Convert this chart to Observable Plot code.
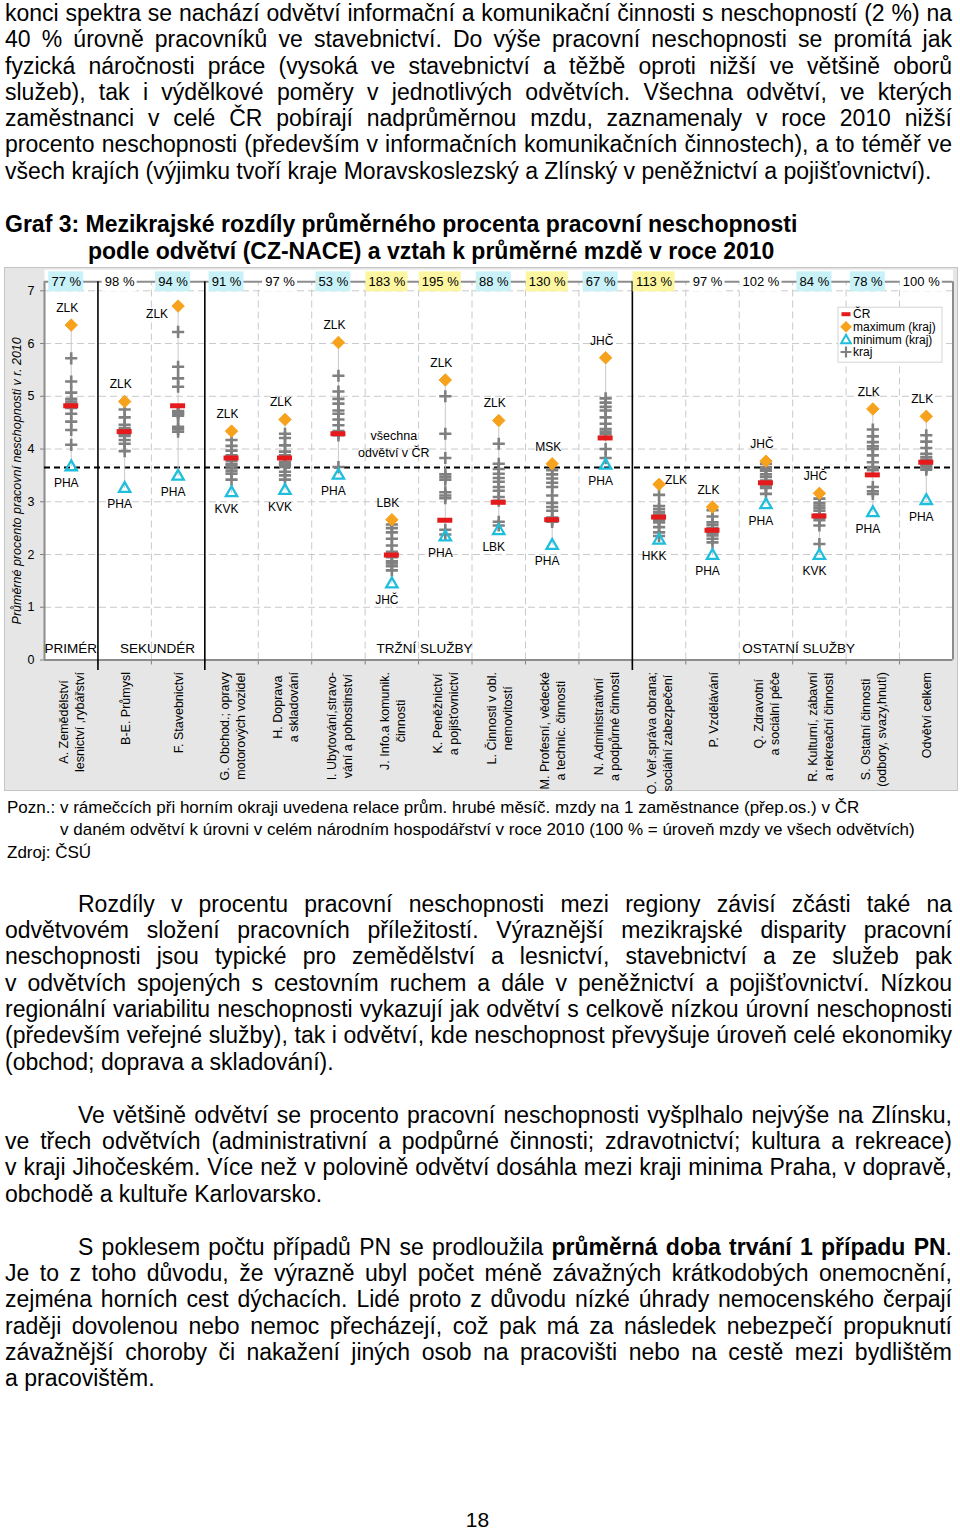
<!DOCTYPE html>
<html lang="cs">
<head>
<meta charset="utf-8">
<script src="https://cdn.jsdelivr.net/npm/d3@7"></script>
<script src="https://cdn.jsdelivr.net/npm/@observablehq/plot@0.6"></script>
<style>
html,body{margin:0;padding:0;background:#fff;}
#page{position:relative;width:960px;height:1530px;overflow:hidden;font-family:"Liberation Sans",Arial,Helvetica,sans-serif;color:#000;}
.blk{position:absolute;left:5px;width:947px;}
.txt{font-size:23px;line-height:26.3px;}
.ln{text-align:justify;text-align-last:justify;}
.ln.end{text-align-last:left;}
.ind{padding-left:73px;}
.title{font-size:23px;font-weight:bold;line-height:27px;}
.note{font-size:17px;line-height:22.5px;left:7px;width:945px;}
#chart{position:absolute;left:4px;top:267px;width:952px;height:522px;border:1px solid #c4c4c4;background:#e6e6e6;}
#chart svg{display:block;}
.pgnum{position:absolute;left:0;width:955px;text-align:center;top:1507px;font-size:21px;line-height:26px;}
</style>
</head>
<body>
<div id="page">
  <div class="blk txt" style="top:0px">
    <div class="ln">konci spektra se nachází odvětví informační a komunikační činnosti s neschopností (2 %) na</div>
    <div class="ln">40 % úrovně pracovníků ve stavebnictví. Do výše pracovní neschopnosti se promítá jak</div>
    <div class="ln">fyzická náročnosti práce (vysoká ve stavebnictví a těžbě oproti nižší ve většině oborů</div>
    <div class="ln">služeb), tak i výdělkové poměry v&nbsp;jednotlivých odvětvích. Všechna odvětví, ve kterých</div>
    <div class="ln">zaměstnanci v&nbsp;celé ČR pobírají nadprůměrnou mzdu, zaznamenaly v&nbsp;roce 2010 nižší</div>
    <div class="ln">procento neschopnosti (především v informačních komunikačních činnostech), a to téměř ve</div>
    <div class="ln end">všech krajích (výjimku tvoří kraje Moravskoslezský a Zlínský v peněžnictví a pojišťovnictví).</div>
  </div>

  <div class="blk title" style="top:210.5px">
    <div>Graf 3: Mezikrajské rozdíly průměrného procenta pracovní neschopnosti</div>
    <div style="padding-left:83px">podle odvětví (CZ-NACE) a vztah k průměrné mzdě v roce 2010</div>
  </div>

  <div id="chart"></div>

  <div class="blk note" style="top:796.75px">
    <div>Pozn.: v rámečcích při horním okraji uvedena relace prům. hrubé měsíč. mzdy na 1 zaměstnance (přep.os.) v ČR</div>
    <div style="padding-left:53px">v daném odvětví k úrovni v celém národním hospodářství v roce 2010 (100 % = úroveň mzdy ve všech odvětvích)</div>
    <div>Zdroj: ČSÚ</div>
  </div>

  <div class="blk txt" style="top:890.85px">
    <div class="ln ind">Rozdíly v procentu pracovní neschopnosti mezi regiony závisí zčásti také na</div>
    <div class="ln">odvětvovém složení pracovních příležitostí. Výraznější mezikrajské disparity pracovní</div>
    <div class="ln">neschopnosti jsou typické pro zemědělství a lesnictví, stavebnictví a ze služeb pak</div>
    <div class="ln">v&nbsp;odvětvích spojených s&nbsp;cestovním ruchem a dále v peněžnictví a pojišťovnictví. Nízkou</div>
    <div class="ln">regionální variabilitu neschopnosti vykazují jak odvětví s celkově nízkou úrovní neschopnosti</div>
    <div class="ln">(především veřejné služby), tak i odvětví, kde neschopnost převyšuje úroveň celé ekonomiky</div>
    <div class="ln end">(obchod; doprava a skladování).</div>
  </div>

  <div class="blk txt" style="top:1101.85px">
    <div class="ln ind">Ve většině odvětví se procento pracovní neschopnosti vyšplhalo nejvýše na Zlínsku,</div>
    <div class="ln">ve třech odvětvích (administrativní a podpůrné činnosti; zdravotnictví; kultura a rekreace)</div>
    <div class="ln">v&nbsp;kraji Jihočeském. Více než v polovině odvětví dosáhla mezi kraji minima Praha, v dopravě,</div>
    <div class="ln end">obchodě a kultuře Karlovarsko.</div>
  </div>

  <div class="blk txt" style="top:1233.85px">
    <div class="ln ind">S poklesem počtu případů PN se prodloužila <b>průměrná doba trvání 1 případu PN</b>.</div>
    <div class="ln">Je to z&nbsp;toho důvodu, že výrazně ubyl počet méně závažných krátkodobých onemocnění,</div>
    <div class="ln">zejména horních cest dýchacích. Lidé proto z&nbsp;důvodu nízké úhrady nemocenského čerpají</div>
    <div class="ln">raději dovolenou nebo nemoc přecházejí, což pak má za následek nebezpečí propuknutí</div>
    <div class="ln">závažnější choroby či nakažení jiných osob na pracovišti nebo na cestě mezi bydlištěm</div>
    <div class="ln end">a pracovištěm.</div>
  </div>

  <div class="pgnum">18</div>
</div>

<script>
// ---------------- DATA ----------------
const categories = ["A","B-E","F","G","H","I","J","K","L","M","N","O","P","Q","R","S","Celkem"];
const categoryLabels = [
  "A. Zemědělství\nlesnictví ,rybářství",
  "B-E. Průmysl",
  "F. Stavebnictví",
  "G. Obchod.; opravy\nmotorových vozidel",
  "H. Doprava\na skladování",
  "I. Ubytování,stravo-\nvání a pohostinství",
  "J. Info.a komunik.\nčinnosti",
  "K. Peněžnictví\na pojišťovnictví",
  "L. Činnosti v obl.\nnemovitostí",
  "M. Profesní, vědecké\na technic. činnosti",
  "N. Administrativní\na podpůrné činnosti",
  "O. Veř.správa obrana;\nsociální zabezpečení",
  "P. Vzdělávání",
  "Q. Zdravotní\na sociální péče",
  "R. Kulturní, zábavní\na rekreační činnosti",
  "S. Ostatní činnosti\n(odbory, svazy,hnutí)",
  "Odvětví celkem"
];
// relation of average gross monthly wage to the national level (%)
const wageIndex = [77, 98, 94, 91, 97, 53, 183, 195, 88, 130, 67, 113, 97, 102, 84, 78, 100];
// ČR value per sector
const crValue  = [4.82, 4.33, 4.82, 3.83, 3.83, 4.29, 1.99, 2.65, 2.99, 2.66, 4.21, 2.71, 2.46, 3.36, 2.73, 3.51, 3.75];
// maximum region
const maxValue  = [6.35, 4.90, 6.71, 4.34, 4.56, 6.02, 2.66, 5.31, 4.54, 3.72, 5.73, 3.33, 2.90, 3.77, 3.16, 4.76, 4.62];
const maxRegion = ["ZLK","ZLK","ZLK","ZLK","ZLK","ZLK","LBK","ZLK","ZLK","MSK","JHČ","ZLK","ZLK","JHČ","JHČ","ZLK","ZLK"];
// minimum region
const minValue  = [3.66, 3.25, 3.48, 3.17, 3.21, 3.50, 1.44, 2.33, 2.45, 2.17, 3.69, 2.27, 1.98, 2.94, 1.98, 2.79, 3.02];
const minRegion = ["PHA","PHA","PHA","KVK","KVK","PHA","JHČ","PHA","LBK","PHA","PHA","HKK","PHA","PHA","KVK","PHA","PHA"];
// remaining regions (kraj)
const regionValues = [
  [5.72,5.28,5.07,4.95,4.90,4.86,4.83,4.78,4.67,4.52,4.36,4.08],
  [4.75,4.60,4.46,4.40,4.36,4.31,4.28,4.25,4.17,4.10,3.96],
  [6.22,5.56,5.34,5.18,4.72,4.70,4.68,4.66,4.63,4.42,4.38,4.33],
  [4.17,4.06,3.97,3.88,3.84,3.78,3.72,3.68,3.63,3.58,3.53,3.42],
  [4.29,4.21,4.07,3.95,3.88,3.76,3.72,3.70,3.66,3.57,3.50,3.42],
  [5.39,5.09,4.95,4.86,4.73,4.67,4.56,4.45,4.34,4.30,4.26,3.66],
  [2.57,2.50,2.42,2.30,2.17,2.05,1.95,1.87,1.83,1.78,1.70],
  [5.00,4.29,3.83,3.52,3.47,3.42,3.18,3.12,3.07,2.47,2.38],
  [4.10,3.72,3.62,3.53,3.45,3.38,3.28,3.21,3.09,3.02,2.62,2.55],
  [3.60,3.52,3.44,3.36,3.28,3.12,2.98,2.90,2.83,2.70,2.66,2.62],
  [4.96,4.88,4.80,4.73,4.60,4.48,4.38,4.33,4.28,4.00,3.83],
  [3.13,2.92,2.86,2.80,2.76,2.68,2.64,2.61,2.52,2.42,2.35],
  [2.84,2.72,2.61,2.56,2.50,2.44,2.40,2.36,2.30,2.23],
  [3.72,3.66,3.62,3.59,3.52,3.47,3.40,3.30,3.26,3.15],
  [3.06,2.98,2.93,2.88,2.83,2.76,2.70,2.65,2.55,2.20],
  [4.37,4.24,4.13,4.05,4.00,3.88,3.75,3.66,3.60,3.28,3.20,3.15],
  [4.26,4.14,4.02,3.91,3.85,3.80,3.72,3.68,3.65,3.61]
];
const allSectorsCR = 3.65;
const groups     = ["PRIMÉR","SEKUNDÉR","TRŽNÍ SLUŽBY","OSTATNÍ SLUŽBY"];
const groupStart = [0, 1, 3, 11];
const groupEnd   = [0, 2, 10, 16];
const yTicks = [0,1,2,3,4,5,6,7];
const yTitle = "Průměrné procento pracovní neschopnosti v r. 2010";
const avgLabel = "všechna\nodvětví v ČR";
const legendLabels = ["ČR","maximum (kraj)","minimum (kraj)","kraj"];

// ---------------- LAYOUT ----------------
const W = 952, H = 522;
const mL = 39, mR = 4.5, mT = 1.2, mB = 130.5;
const yMax = 7.4;
const topLineY = 7.17;
const n = categories.length;
const PX = (W - mL - mR) / n;
const PY = (H - mT - mB) / yMax;

const C_MAX = "#f7a21c", C_MIN = "#1ebedc", C_CR = "#e41a1c", C_KRAJ = "#808080";
const FONT = "Liberation Sans, Arial, Helvetica, sans-serif";
const LABEL_FS = 12.5;

// measure category label lines so that wrapped lines are centred on each other
const measureCtx = document.createElement("canvas").getContext("2d");
measureCtx.font = `${LABEL_FS}px "Liberation Sans", Arial, sans-serif`;
const labelBlockLen = categoryLabels.map(l => d3.max(l.split("\n"), s => measureCtx.measureText(s).width));

const cols = categories.map((c, i) => ({
  i, cat: c, wage: wageIndex[i], cr: crValue[i],
  max: maxValue[i], maxR: maxRegion[i], min: minValue[i], minR: minRegion[i],
  label: categoryLabels[i], labelLen: labelBlockLen[i]
}));
const regionPts = regionValues.flatMap((vals, i) => vals.map(v => ({i, v})));
const allBounds = d3.range(n - 1).map(i => i + 0.5);
const groupBounds = groupStart.slice(1).map(s => s - 0.5);
const innerBounds = allBounds.filter(b => !groupBounds.includes(b));
const groupData = groups.map((g, k) => ({g, k, start: groupStart[k], end: groupEnd[k]}));

const wageFill = w => w < 95 ? "#c9f2f8" : w > 105 ? "#fdf6a0" : "#ffffff";
const boxW = d => (String(d.wage).length > 2 ? 42 : 35);
const BOX_DX = -5;

function legendMark(index, scales, values, dims) {
  const right = dims.width - dims.marginRight, top = dims.marginTop;
  const g = d3.create("svg:g").attr("font-family", FONT).attr("font-size", 12).attr("text-anchor", "start");
  const bx = right - 114.5, by = top + 38;
  g.append("rect").attr("x", bx).attr("y", by).attr("width", 104).attr("height", 55)
    .attr("fill", "#fff").attr("stroke", "#d4d4d4");
  const sx = bx + 8, tx = bx + 15;
  legendLabels.forEach((lab, k) => {
    const yy = by + 7 + k * 12.6;
    if (k === 0) {
      g.append("line").attr("x1", sx - 4.5).attr("x2", sx + 4.5).attr("y1", yy).attr("y2", yy)
        .attr("stroke", C_CR).attr("stroke-width", 4);
    } else if (k === 1) {
      g.append("path").attr("transform", `translate(${sx},${yy})`)
        .attr("d", d3.symbol(d3.symbolDiamond2, Math.PI * 4.8 * 4.8)()).attr("fill", C_MAX).attr("stroke", C_MAX);
    } else if (k === 2) {
      g.append("path").attr("transform", `translate(${sx},${yy + 1})`)
        .attr("d", d3.symbol(d3.symbolTriangle2, Math.PI * 4.6 * 4.6)()).attr("fill", "none")
        .attr("stroke", C_MIN).attr("stroke-width", 2);
    } else {
      g.append("path").attr("transform", `translate(${sx},${yy})`)
        .attr("d", d3.symbol(d3.symbolPlus, Math.PI * 3.6 * 3.6)()).attr("fill", "none")
        .attr("stroke", C_KRAJ).attr("stroke-width", 2.2);
    }
    g.append("text").attr("x", tx).attr("y", yy).attr("dy", "0.35em").attr("text-anchor", "start").text(lab);
  });
  return g.node();
}

const chart = Plot.plot({
  width: W, height: H,
  marginLeft: mL, marginRight: mR, marginTop: mT, marginBottom: mB,
  style: {background: "transparent", fontFamily: FONT, fontSize: "12.5px", color: "#000", overflow: "visible"},
  x: {type: "linear", domain: [-0.5, n - 0.5], axis: null},
  y: {type: "linear", domain: [0, yMax]},
  marks: [
    Plot.frame({fill: "white", stroke: "none"}),
    // grid
    Plot.ruleY(yTicks.slice(1), {x1: -0.5, x2: n - 0.5, stroke: "#c9c9c9", strokeDasharray: "7,4"}),
    Plot.ruleX(innerBounds, {y1: 0, y2: topLineY, stroke: "#c9c9c9", strokeDasharray: "7,4"}),
    // axis ticks at category boundaries
    Plot.ruleX(allBounds, {y1: 0, y2: -5 / PY, stroke: "#808080"}),
    // plot border
    Plot.ruleY([0, topLineY], {x1: -0.5, x2: n - 0.5, stroke: "#8c8c8c", strokeWidth: 2}),
    Plot.ruleX([-0.5, n - 0.5], {y1: 0, y2: topLineY, stroke: "#8c8c8c", strokeWidth: 2}),
    // group separators
    Plot.ruleX(groupBounds, {y1: -10.5 / PY, y2: topLineY, stroke: "#000", strokeWidth: 1.6}),
    // all-sector average
    Plot.ruleY([allSectorsCR], {x1: -0.5, x2: n - 0.5, stroke: "#000", strokeWidth: 2, strokeDasharray: "6,4"}),
    Plot.text([allSectorsCR], {x: categories.indexOf("J"), y: d => d, text: () => avgLabel, dy: -24, dx: 2, lineHeight: 1.36, fontSize: 12.5}),
    // min-max range
    Plot.ruleX(cols, {x: "i", y1: "min", y2: "max", stroke: "#c8c8c8", strokeWidth: 1}),
    // regions
    Plot.dot(regionPts, {x: "i", y: "v", symbol: "plus", r: 4, stroke: C_KRAJ, strokeWidth: 2.6}),
    // ČR
    Plot.ruleY(cols, {y: "cr", x1: d => d.i - 7.5 / PX, x2: d => d.i + 7.5 / PX, stroke: C_CR, strokeWidth: 5}),
    // max & min
    Plot.dot(cols, {x: "i", y: "max", symbol: "diamond2", r: 5.6, fill: C_MAX, stroke: C_MAX, strokeWidth: 1}),
    Plot.dot(cols, {x: "i", y: "min", symbol: "triangle2", r: 5.4, fill: "none", stroke: C_MIN, strokeWidth: 2.3}),
    // region labels
    Plot.text(cols, {filter: d => d.cat !== "F" && d.cat !== "O", x: "i", y: "max", text: "maxR", dx: -4, dy: -17, fontSize: 12}),
    Plot.text(cols, {filter: d => d.cat === "F", x: "i", y: "max", text: "maxR", dx: -21, dy: 8, fontSize: 12}),
    Plot.text(cols, {filter: d => d.cat === "O", x: "i", y: "max", text: "maxR", dx: 17, dy: -4, fontSize: 12}),
    Plot.text(cols, {x: "i", y: "min", text: "minR", dx: -5, dy: 16, fontSize: 12}),
    // group labels
    Plot.text(groupData, {filter: d => d.k === 0, x: d => d.start - 0.5, y: 0, text: "g", textAnchor: "start", dy: -11.5, fontSize: 13.5}),
    Plot.text(groupData, {filter: d => d.k > 0, x: d => (d.start + d.end) / 2, y: 0, text: "g", dx: 6, dy: -11.5, fontSize: 13.5}),
    // wage boxes
    Plot.rect(cols, {
      x1: d => d.i + (BOX_DX - boxW(d) / 2) / PX, x2: d => d.i + (BOX_DX + boxW(d) / 2) / PX,
      y1: topLineY - 10 / PY, y2: topLineY + 10 / PY, fill: d => wageFill(d.wage)
    }),
    Plot.text(cols, {x: "i", y: topLineY, text: d => `${d.wage} %`, dx: BOX_DX, fontSize: 13}),
    // axes
    Plot.axisY(yTicks, {tickSize: 4, tickPadding: 6, stroke: "#808080", fontSize: 12.5, tickFormat: d => String(d), label: null}),
    Plot.text([yTitle], {text: d => d, frameAnchor: "left", textAnchor: "middle", rotate: -90, dx: -28, dy: 16, fontStyle: "italic", fontSize: 12.5}),
    // category labels (rotated, lines centred on each other, block top 12px under the axis)
    Plot.text(cols, {
      x: "i", y: d => -(12 + d.labelLen / 2) / PY, text: "label",
      rotate: -90, textAnchor: "middle", lineAnchor: "middle", lineHeight: 1.28, fontSize: LABEL_FS
    }),
    // legend
    legendMark
  ]
});
document.getElementById("chart").append(chart);
</script>
</body>
</html>
